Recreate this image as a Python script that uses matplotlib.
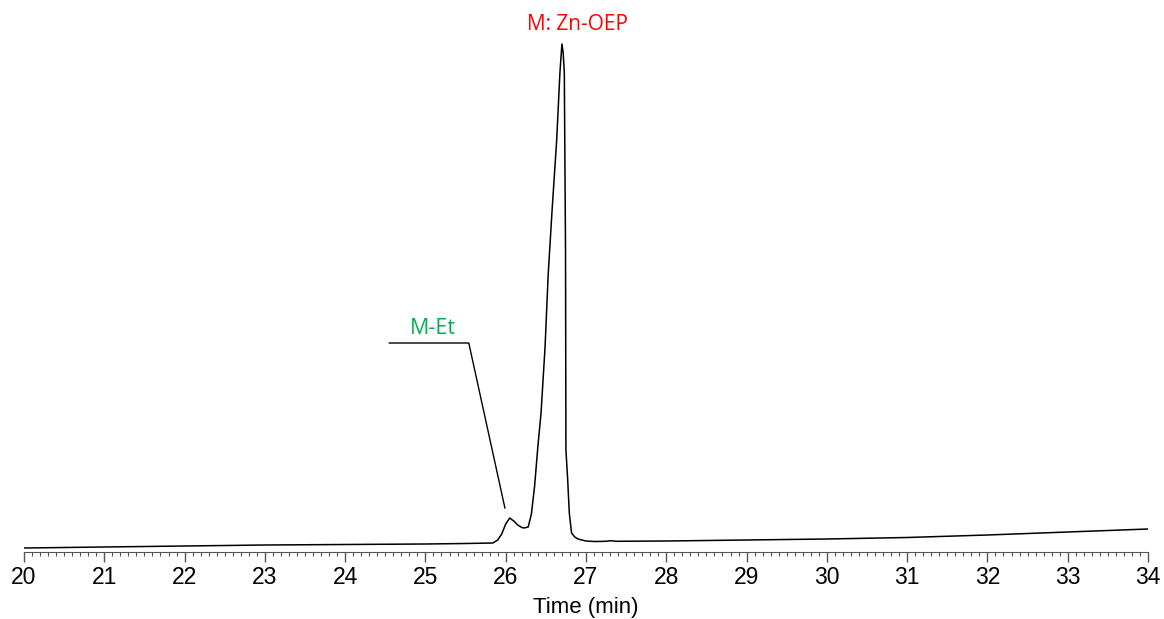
import matplotlib.pyplot as plt
from matplotlib.ticker import MultipleLocator

# chromatogram trace (time in min, signal in arbitrary units)
time = [20.0, 21.0, 22.0, 23.0, 24.0, 25.0, 25.5, 25.84, 25.9, 25.95,
        26.0, 26.05, 26.1, 26.15, 26.2, 26.23, 26.28, 26.32, 26.36, 26.4,
        26.44, 26.49, 26.53, 26.58, 26.635, 26.675, 26.7, 26.715, 26.73, 26.745,
        26.75, 26.772, 26.792, 26.82, 26.86, 26.9, 27.0, 27.1, 27.25, 27.3,
        27.38, 28.0, 29.0, 30.0, 31.0, 32.0, 33.0, 34.0]
signal = [4, 5, 6, 7, 7.5, 8, 8.5, 9, 12, 18,
          28, 34, 31, 27, 24.5, 24, 25, 38, 66, 105,
          139, 205, 279, 345, 412, 479, 508, 500, 479, 300,
          102, 72, 39, 19, 15, 13, 11, 10.5, 10.7, 11.3,
          10.7, 11, 12, 13, 14.5, 17, 20, 23]

major_label = "M: Zn-OEP"
minor_label = "M-Et"

fig = plt.figure(figsize=(11.64, 6.19), dpi=100)
ax = fig.add_axes([24 / 1164, 1 - 552 / 619, 1124 / 1164, 542 / 619])

ax.plot(time, signal, color='black', linewidth=1.1)

ax.set_xlim(20, 34)
ax.set_ylim(0, 542)
for s in ['top', 'right', 'left']:
    ax.spines[s].set_visible(False)
ax.spines['bottom'].set_color('#555555')
ax.set_yticks([])

ax.xaxis.set_major_locator(MultipleLocator(1))
ax.xaxis.set_minor_locator(MultipleLocator(0.1))
ax.tick_params(axis='x', which='major', length=7, width=1, color='#555555', labelsize=16.5, pad=3)
ax.tick_params(axis='x', which='minor', length=3, width=0.8, color='#555555')
for lbl in ax.get_xticklabels():
    lbl.set_family('Liberation Sans')
ax.set_xlabel('Time (min)', fontsize=16, family='Liberation Sans', labelpad=6)

# peak labels
ax.text(26.9, 527, major_label, color='#ff0000', fontsize=15, family='Open Sans',
        ha='center', va='center')
ax.text(25.09, 224, minor_label, color='#00b050', fontsize=15.5, family='Open Sans',
        ha='center', va='center')
ax.plot([24.55, 25.54, 25.99], [209, 209, 44], color='black', linewidth=1)

fig.savefig('out.png', dpi=100)
